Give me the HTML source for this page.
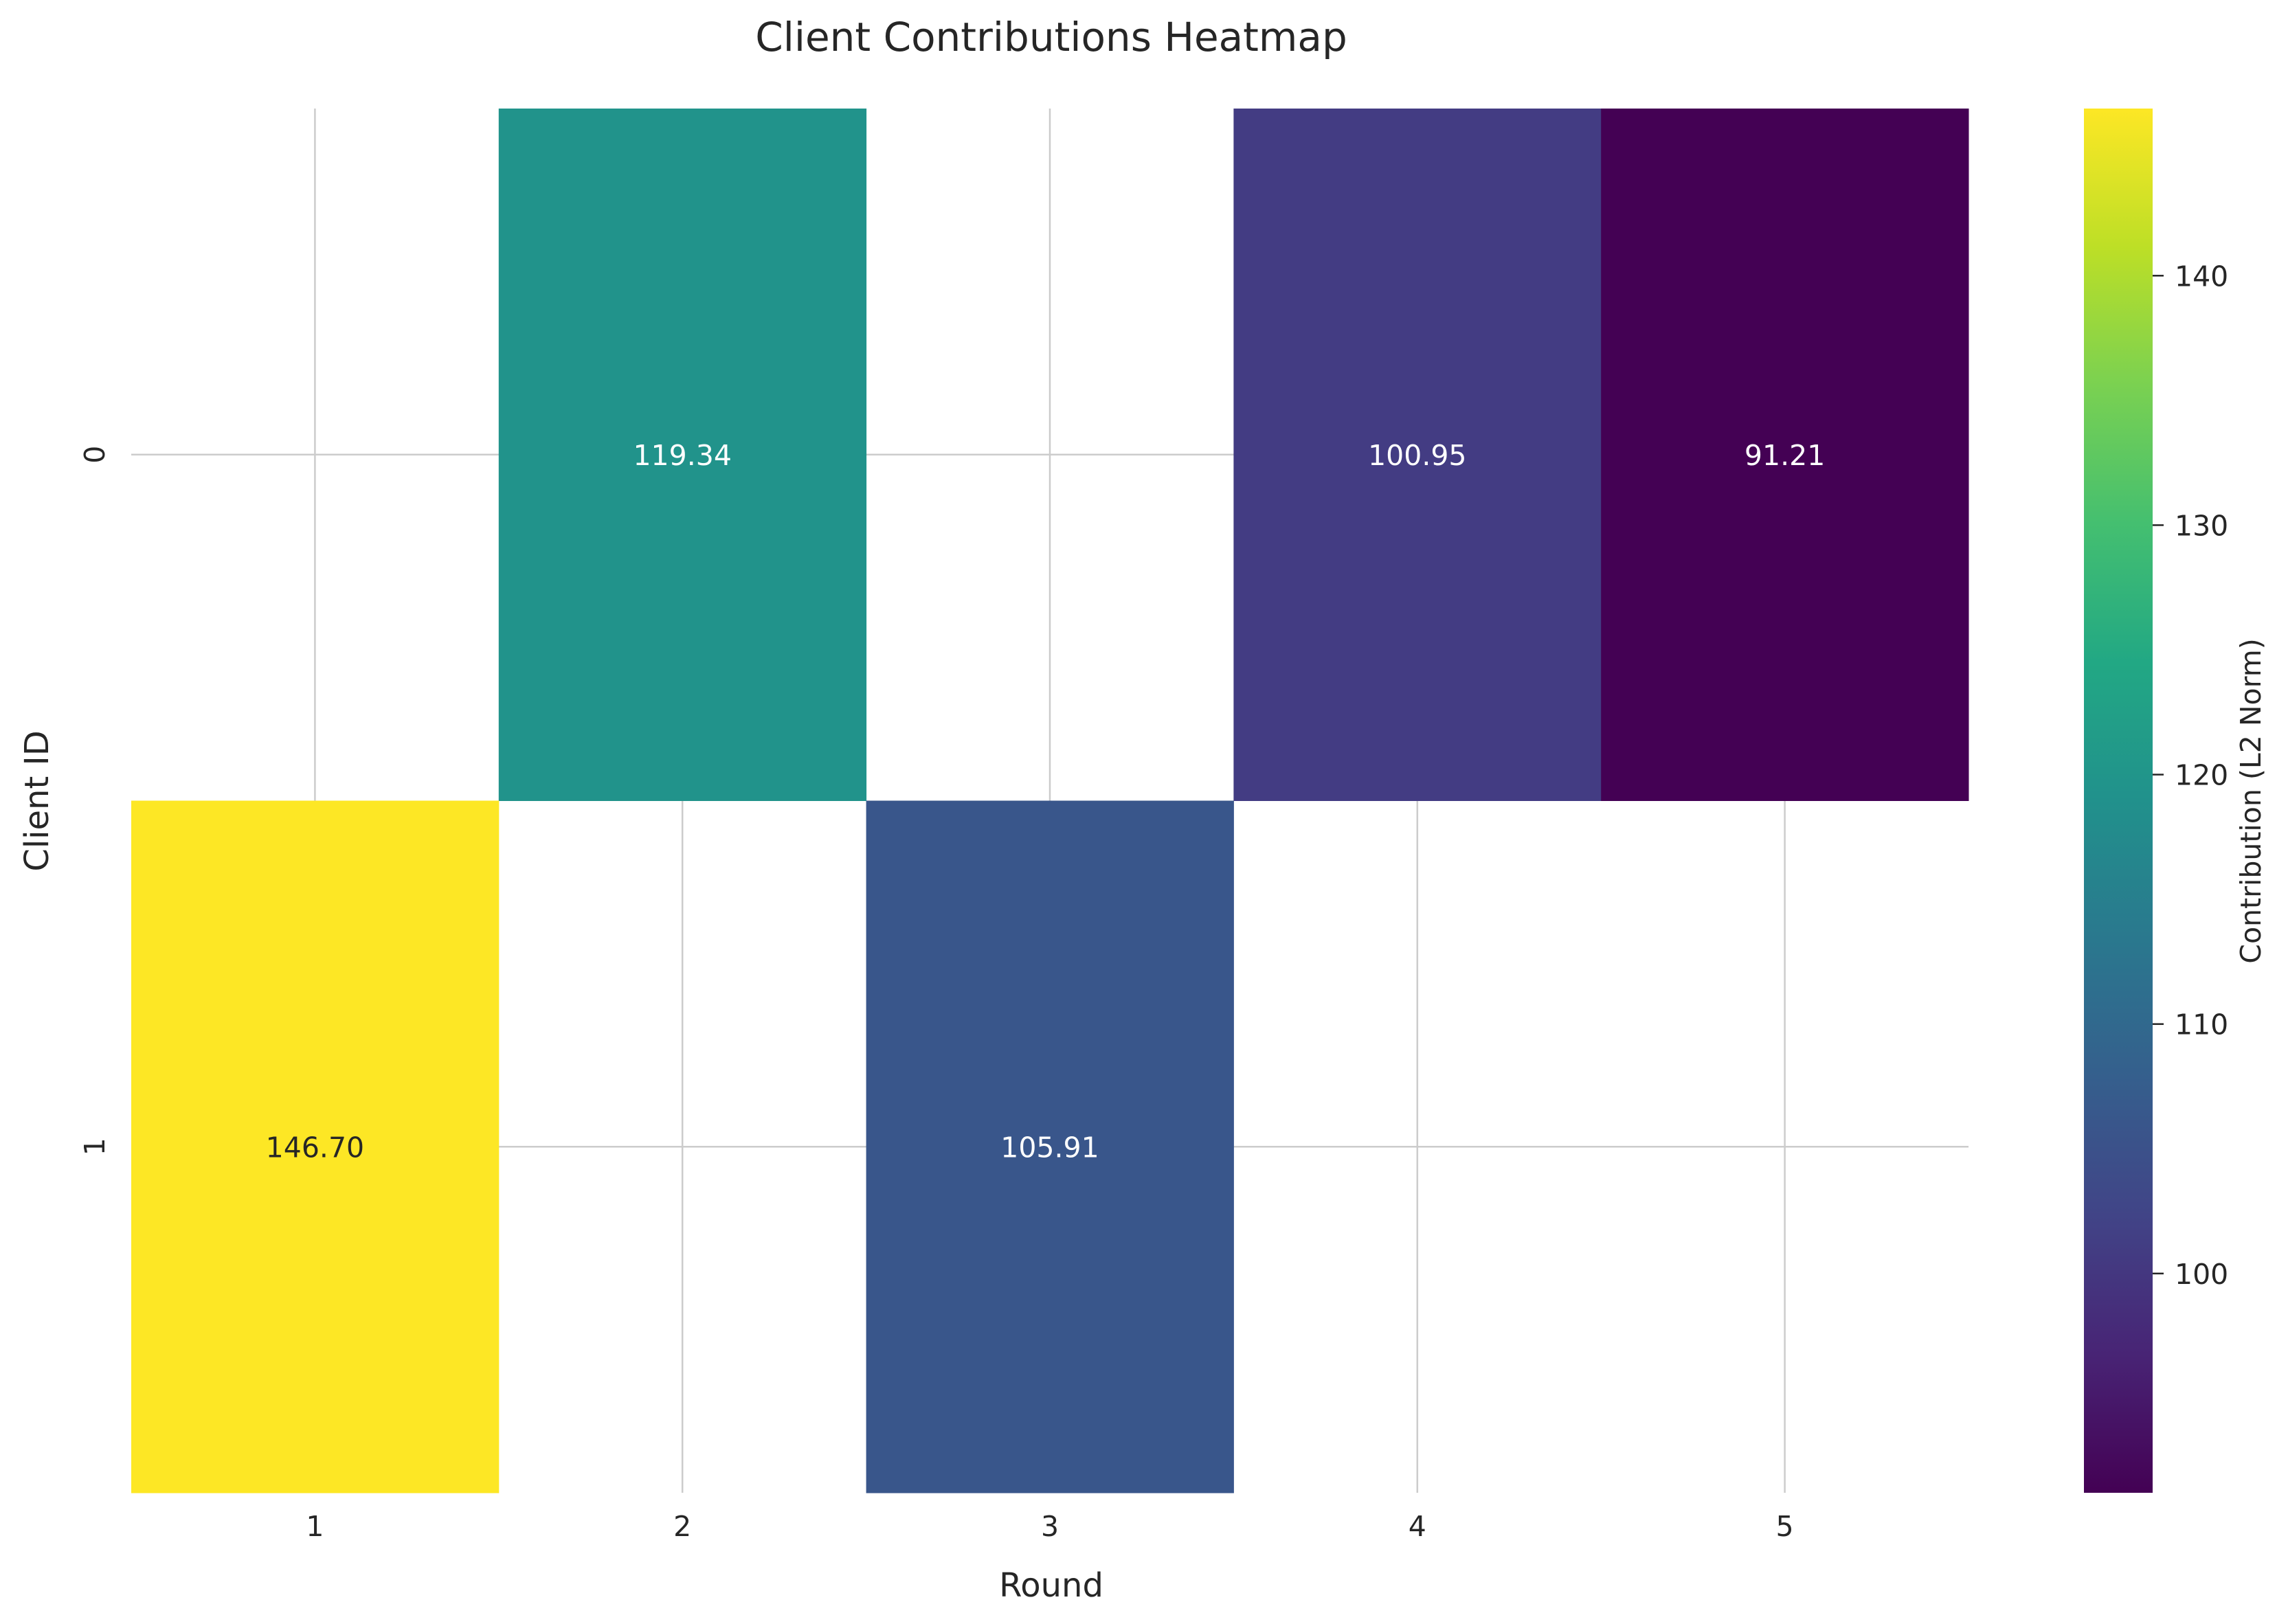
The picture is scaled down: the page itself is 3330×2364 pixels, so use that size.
<!DOCTYPE html>
<html><head><meta charset="utf-8"><style>
html,body{margin:0;padding:0;background:#fff;}
svg{display:block;font-family:"DejaVu Sans","Liberation Sans",sans-serif;}
</style></head><body>
<svg id="chart" width="3330" height="2364" viewBox="0 0 3330 2364" xmlns="http://www.w3.org/2000/svg">
<text x="1530" y="74" font-size="58" fill="#262626" text-anchor="middle">Client Contributions Heatmap</text>
<text x="1530" y="2324" font-size="48" fill="#262626" text-anchor="middle">Round</text>
<text transform="translate(70,1166) rotate(-90)" font-size="48" fill="#262626" text-anchor="middle">Client ID</text>
<text transform="translate(3290,1166) rotate(-90)" font-size="41" fill="#262626" text-anchor="middle">Contribution (L2 Norm)</text>
<defs><linearGradient id="vir" x1="0" y1="1" x2="0" y2="0"></linearGradient></defs>
<g id="grid"></g><g id="cells"></g><g id="axes"></g><g id="cbar"></g>
</svg>
<script>
const rounds = ["1","2","3","4","5"];
const clients = ["0","1"];
const client0Values = [null, 119.34, null, 100.95, 91.21];
const client1Values = [146.70, null, 105.91, null, null];
const colorbarTicks = [100, 110, 120, 130, 140];

const NS = "http://www.w3.org/2000/svg";
const L = 191, R = 2865, T = 158, B = 2173;
const CBL = 3033, CBR = 3133;
const grid = [client0Values, client1Values];
const all = grid.flat().filter(v => v !== null);
const vmin = Math.min(...all), vmax = Math.max(...all);
const cw = (R - L) / rounds.length, ch = (B - T) / clients.length;
const xOf = i => L + i * cw;
const yOf = j => T + j * ch;
const cbY = v => B - (v - vmin) / (vmax - vmin) * (B - T);
const vir = ["#440154","#482475","#414487","#355f8d","#2a788e","#21918c","#22a884","#44bf70","#7ad151","#bddf26","#fde725"];
function hex(h){return [1,3,5].map(k=>parseInt(h.substr(k,2),16));}
function color(v){
  let t=(v-vmin)/(vmax-vmin); t=Math.max(0,Math.min(1,t));
  const p=t*(vir.length-1), i=Math.min(Math.floor(p),vir.length-2), f=p-i;
  const a=hex(vir[i]), b=hex(vir[i+1]);
  return "rgb("+a.map((c,k)=>Math.round(c+(b[k]-c)*f)).join(",")+")";
}
function mk(tag, attrs, parent){const e=document.createElementNS(NS,tag);for(const k in attrs)e.setAttribute(k,attrs[k]);parent.appendChild(e);return e;}
const gG=document.getElementById("grid"), gC=document.getElementById("cells"), gA=document.getElementById("axes"), gB=document.getElementById("cbar");
rounds.forEach((r,i)=>{
  const x=xOf(i)+cw/2;
  const ln=mk("line",{x1:x,x2:x,y1:T,y2:B,stroke:"#cccccc","stroke-width":2.5},gG);
  
  
  const t=mk("text",{x:x,y:B+63,"font-size":41,fill:"#262626","text-anchor":"middle"},gA);
  t.textContent=r;
  
  
});
clients.forEach((c,j)=>{
  const y=yOf(j)+ch/2;
  const ln=mk("line",{x1:L,x2:R,y1:y,y2:y,stroke:"#cccccc","stroke-width":2.5},gG);
  
  
  const t=mk("text",{transform:"translate(152,"+y+") rotate(-90)","font-size":41,fill:"#262626","text-anchor":"middle"},gA);
  t.textContent=c;
  
  
});
grid.forEach((row,j)=>row.forEach((v,i)=>{
  if(v===null)return;
  const r=mk("rect",{x:xOf(i),y:yOf(j),width:cw+0.5,height:ch+0.5,fill:color(v)},gC);
  
  
  const t=mk("text",{x:xOf(i)+cw/2,y:yOf(j)+ch/2+15,"font-size":41,"text-anchor":"middle",fill:(v-vmin)/(vmax-vmin)>0.6?"#262626":"#ffffff"},gC);
  t.textContent=v.toFixed(2);
  
  
}));
const lg=document.getElementById("vir");
vir.forEach((c,k)=>mk("stop",{offset:(k/(vir.length-1)),"stop-color":c},lg));
const cb=mk("rect",{x:CBL,y:T,width:CBR-CBL,height:B-T,fill:"url(#vir)"},gB);


colorbarTicks.forEach(v=>{
  const y=cbY(v);
  const tk=mk("line",{x1:CBR,x2:CBR+16,y1:y,y2:y,stroke:"#262626","stroke-width":2.5},gB);
  
  
  const t=mk("text",{x:CBR+32,y:y+15,"font-size":41,fill:"#262626"},gB);
  t.textContent=v;
  
  
});
</script>
</body></html>
